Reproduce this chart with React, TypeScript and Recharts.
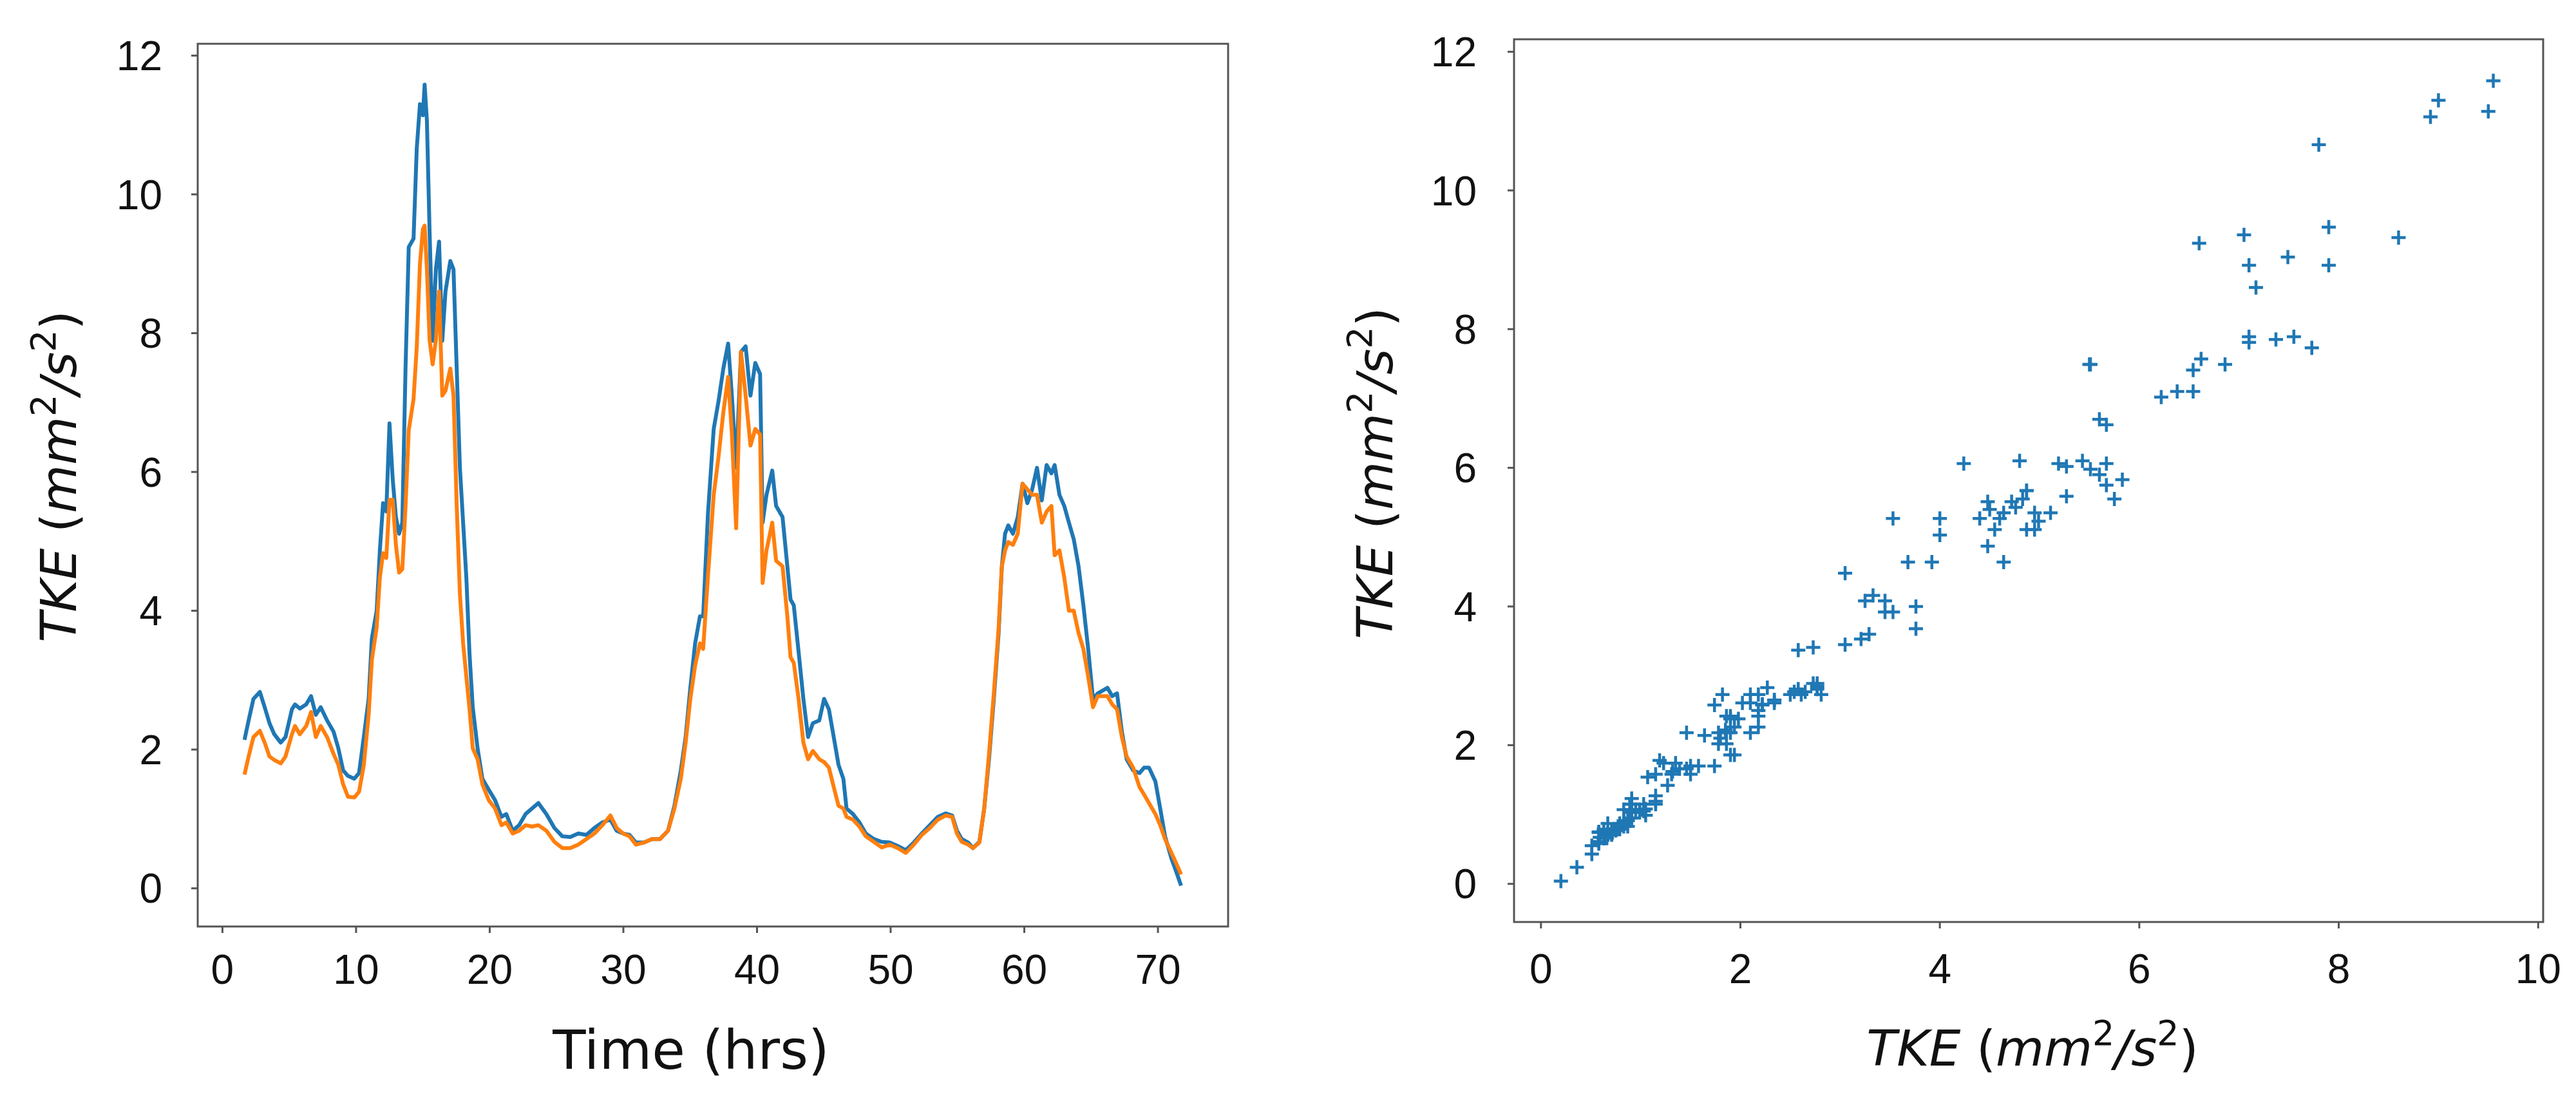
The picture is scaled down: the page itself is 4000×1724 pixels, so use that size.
import React from 'react';
import {
  LineChart,
  Line,
  ScatterChart,
  Scatter,
  XAxis,
  YAxis,
  Label,
  ReferenceArea,
} from 'recharts';

// time axis (hrs) and the two TKE series
const hours = [
  1.65, 1.96, 2.32, 2.8, 3.16, 3.52, 3.88, 4.36, 4.72, 5.2, 5.43, 5.79, 6.27, 6.63, 6.99, 7.35,
  7.83, 8.31, 8.67, 9.03, 9.39, 9.87, 10.22, 10.58, 10.94, 11.18, 11.54, 11.78, 12.02, 12.26,
  12.5, 12.74, 12.98, 13.22, 13.46, 13.7, 13.94, 14.3, 14.54, 14.78, 15.0, 15.13, 15.3, 15.5,
  15.73, 15.97, 16.21, 16.45, 16.69, 17.05, 17.29, 17.53, 17.77, 18.01, 18.25, 18.49, 18.73,
  19.09, 19.45, 19.93, 20.4, 20.88, 21.24, 21.72, 22.2, 22.68, 23.16, 23.64, 24.24, 24.84,
  25.43, 26.03, 26.63, 27.23, 27.83, 28.43, 29.03, 29.5, 29.98, 30.46, 30.94, 31.54, 32.14,
  32.74, 33.34, 33.82, 34.3, 34.66, 35.01, 35.37, 35.73, 35.97, 36.33, 36.76, 37.12, 37.48,
  37.84, 38.12, 38.44, 38.8, 39.15, 39.51, 39.87, 40.23, 40.42, 40.71, 41.14, 41.43, 41.91,
  42.27, 42.51, 42.75, 43.11, 43.47, 43.82, 44.18, 44.66, 45.02, 45.38, 45.74, 46.1, 46.46,
  46.7, 47.18, 47.66, 48.14, 48.74, 49.33, 49.93, 50.53, 51.13, 51.73, 52.33, 52.93, 53.53,
  54.12, 54.6, 54.96, 55.32, 55.8, 56.16, 56.64, 57.0, 57.36, 57.72, 58.08, 58.32, 58.56,
  58.8, 59.15, 59.51, 59.87, 60.23, 60.59, 60.95, 61.31, 61.67, 62.03, 62.27, 62.63, 62.99,
  63.34, 63.7, 64.06, 64.42, 64.78, 65.14, 65.5, 65.86, 66.22, 66.58, 66.94, 67.3, 67.66,
  68.14, 68.62, 68.97, 69.33, 69.81, 70.17, 70.53, 71.01, 71.37, 71.73,
];

const tkeBlue = [
  2.14, 2.42, 2.73, 2.83, 2.61, 2.38, 2.22, 2.1, 2.18, 2.58, 2.65, 2.59, 2.65, 2.77, 2.5, 2.61,
  2.42, 2.26, 2.02, 1.7, 1.62, 1.58, 1.66, 2.18, 2.73, 3.6, 4.0, 4.87, 5.55, 5.43,
  6.7, 5.9, 5.35, 5.11, 5.27, 7.49, 9.24, 9.36, 10.66, 11.3, 11.14, 11.58, 11.06, 9.47,
  7.89, 8.92, 9.32, 7.89, 8.6, 9.04, 8.92, 7.49, 6.06, 5.27, 4.48, 3.37, 2.61,
  2.02, 1.58, 1.42, 1.27, 1.03, 1.07, 0.83, 0.91, 1.07, 1.15, 1.23, 1.07, 0.87,
  0.75, 0.74, 0.79, 0.77, 0.87, 0.95, 0.99, 0.83, 0.79, 0.77, 0.66, 0.66, 0.71,
  0.71, 0.83, 1.19, 1.7, 2.18, 2.89, 3.53, 3.92, 3.92, 5.4, 6.62, 7.02, 7.49,
  7.85, 7.1, 6.06, 7.73, 7.81, 7.1, 7.57, 7.41, 5.27, 5.67, 6.02, 5.51, 5.35,
  4.64, 4.16, 4.08, 3.41, 2.73, 2.18, 2.38, 2.42, 2.73, 2.58, 2.18, 1.78, 1.58,
  1.15, 1.07, 0.95, 0.79, 0.71, 0.67, 0.66, 0.61, 0.55, 0.66, 0.79, 0.91, 1.03,
  1.08, 1.05, 0.83, 0.71, 0.66, 0.58, 0.67, 1.15, 1.86, 2.73, 3.68, 4.64, 5.11,
  5.23, 5.11, 5.35, 5.83, 5.55, 5.75, 6.06, 5.59, 6.1, 5.98, 6.1, 5.67, 5.51,
  5.27, 5.03, 4.64, 4.08, 3.45, 2.73, 2.81, 2.85, 2.89, 2.77, 2.81, 2.26, 1.86,
  1.7, 1.66, 1.74, 1.74, 1.54, 1.15, 0.75, 0.43, 0.24, 0.04,
];

const tkeOrange = [
  1.64, 1.9, 2.18, 2.27, 2.1, 1.9, 1.85, 1.8, 1.9, 2.22, 2.34, 2.22, 2.34, 2.54, 2.18, 2.34,
  2.18, 1.94, 1.78, 1.5, 1.32, 1.31, 1.39, 1.78, 2.5, 3.29, 3.76, 4.48, 4.83, 4.76,
  5.6, 5.6, 4.95, 4.55, 4.6, 5.5, 6.6, 7.05, 7.8, 9.0, 9.5, 9.55, 8.92, 7.9,
  7.55, 7.9, 8.6, 7.1, 7.17, 7.49, 7.1, 5.51, 4.24, 3.53, 3.05, 2.58, 2.02,
  1.86, 1.5, 1.27, 1.15, 0.91, 0.95, 0.79, 0.83, 0.91, 0.89, 0.91, 0.83, 0.67,
  0.58, 0.58, 0.63, 0.71, 0.79, 0.91, 1.05, 0.87, 0.79, 0.75, 0.63, 0.66, 0.71,
  0.71, 0.83, 1.15, 1.58, 2.1, 2.73, 3.21, 3.53, 3.45, 4.5, 5.67, 6.22, 6.86,
  7.37, 6.54, 5.19, 7.73, 7.1, 6.38, 6.62, 6.54, 4.4, 4.87, 5.27, 4.72, 4.64,
  3.92, 3.33, 3.25, 2.73, 2.1, 1.86, 1.98, 1.86, 1.82, 1.74, 1.46, 1.19, 1.15,
  1.03, 0.99, 0.89, 0.75, 0.67, 0.59, 0.63, 0.58, 0.51, 0.63, 0.77, 0.87, 0.99,
  1.05, 1.03, 0.79, 0.67, 0.63, 0.58, 0.66, 1.15, 1.94, 2.81, 3.76, 4.64, 4.87,
  4.99, 4.95, 5.11, 5.83, 5.75, 5.67, 5.67, 5.27, 5.43, 5.51, 4.8, 4.87, 4.48,
  4.0, 4.0, 3.68, 3.45, 3.05, 2.61, 2.77, 2.77, 2.77, 2.65, 2.58, 2.18, 1.9,
  1.74, 1.46, 1.35, 1.23, 1.07, 0.91, 0.71, 0.51, 0.36, 0.2,
];

const timeTicks = [0, 10, 20, 30, 40, 50, 60, 70];
const tkeTicks = [0, 2, 4, 6, 8, 10, 12];
const tkeXTicks = [0, 2, 4, 6, 8, 10];

const BLUE = '#1f77b4';
const ORANGE = '#ff7f0e';
const FRAME = '#555555';
const TICK_FONT = { fontFamily: 'Liberation Sans, Arial, sans-serif', fontSize: 64, fill: '#111' };
const LABEL_FONT = 'DejaVu Sans, sans-serif';

const lineData = hours.map((t, i) => ({ t, blue: tkeBlue[i], orange: tkeOrange[i] }));
const scatterData = hours.map((_, i) => ({ x: tkeOrange[i], y: tkeBlue[i] }));

// TKE (mm^2/s^2) written with raised exponents
const TkeText: React.FC<{ x: number; y: number; rotate?: boolean; size: number }> = ({ x, y, rotate, size }) => {
  const up = size * 0.42;
  const sup = size * 0.7;
  return (
    <text
      x={x}
      y={y}
      textAnchor="middle"
      fontFamily={LABEL_FONT}
      fontStyle="italic"
      fontSize={size}
      fill="#111"
      transform={rotate ? `rotate(-90, ${x}, ${y})` : undefined}
    >
      <tspan>TKE </tspan>
      <tspan fontStyle="normal">(</tspan>
      <tspan>mm</tspan>
      <tspan fontSize={sup} dy={-up} fontStyle="normal">2</tspan>
      <tspan dy={up}>/s</tspan>
      <tspan fontSize={sup} dy={-up} fontStyle="normal">2</tspan>
      <tspan dy={up} fontStyle="normal">)</tspan>
    </text>
  );
};

const Plus = (props: any) => {
  const { cx, cy } = props;
  if (cx == null || cy == null) return null;
  return (
    <path
      d={`M${cx - 11},${cy}H${cx + 11}M${cx},${cy - 11}V${cy + 11}`}
      stroke={BLUE}
      strokeWidth={4.5}
      fill="none"
    />
  );
};

const axisCommon = {
  tickSize: 10,
  axisLine: false,
  tickLine: { stroke: FRAME, strokeWidth: 3 },
  tick: TICK_FONT,
  interval: 0 as const,
  allowDataOverflow: true,
};

const TimeSeriesPanel: React.FC = () => (
  <LineChart
    width={2000}
    height={1724}
    data={lineData}
    margin={{ top: 68, right: 93, left: 0, bottom: 0 }}
  >
    <XAxis
      {...axisCommon}
      dataKey="t"
      type="number"
      domain={[-1.85, 75.25]}
      ticks={timeTicks}
      height={285}
      tickMargin={34}
    >
      <Label
        content={() => (
          <text x={1073} y={1660} textAnchor="middle" fontFamily={LABEL_FONT} fontSize={84} fill="#111">
            Time (hrs)
          </text>
        )}
      />
    </XAxis>
    <YAxis
      {...axisCommon}
      type="number"
      domain={[-0.55, 12.17]}
      ticks={tkeTicks}
      width={307}
      tickMargin={45}
    >
      <Label content={() => <TkeText x={118} y={740} rotate size={77} />} />
    </YAxis>
    <Line
      dataKey="blue"
      type="linear"
      stroke={BLUE}
      strokeWidth={6}
      strokeLinejoin="round"
      dot={false}
      isAnimationActive={false}
    />
    <Line
      dataKey="orange"
      type="linear"
      stroke={ORANGE}
      strokeWidth={6}
      strokeLinejoin="round"
      dot={false}
      isAnimationActive={false}
    />
    <ReferenceArea
      x1={-1.85}
      x2={75.25}
      y1={-0.55}
      y2={12.17}
      fill="none"
      fillOpacity={0}
      stroke={FRAME}
      strokeWidth={3}
      ifOverflow="visible"
    />
  </LineChart>
);

const ScatterPanel: React.FC = () => (
  <ScatterChart width={2000} height={1724} margin={{ top: 61, right: 51, left: 0, bottom: 0 }}>
    <XAxis
      {...axisCommon}
      dataKey="x"
      type="number"
      domain={[-0.27, 10.05]}
      ticks={tkeXTicks}
      height={292}
      tickMargin={40}
    >
      <Label content={() => <TkeText x={1156} y={1655} size={77} />} />
    </XAxis>
    <YAxis
      {...axisCommon}
      dataKey="y"
      type="number"
      domain={[-0.55, 12.18]}
      ticks={tkeTicks}
      width={351}
      tickMargin={48}
    >
      <Label content={() => <TkeText x={162} y={735} rotate size={77} />} />
    </YAxis>
    <Scatter data={scatterData} fill={BLUE} shape={<Plus />} isAnimationActive={false} />
    <ReferenceArea
      x1={-0.27}
      x2={10.05}
      y1={-0.55}
      y2={12.18}
      fill="none"
      fillOpacity={0}
      stroke={FRAME}
      strokeWidth={3}
      ifOverflow="visible"
    />
  </ScatterChart>
);

const App: React.FC = () => (
  <div style={{ position: 'absolute', left: 0, top: 0, width: 4000, height: 1724, background: '#fff' }}>
    <div style={{ position: 'absolute', left: 0, top: 0 }}>
      <TimeSeriesPanel />
    </div>
    <div style={{ position: 'absolute', left: 2000, top: 0 }}>
      <ScatterPanel />
    </div>
  </div>
);

export default App;
